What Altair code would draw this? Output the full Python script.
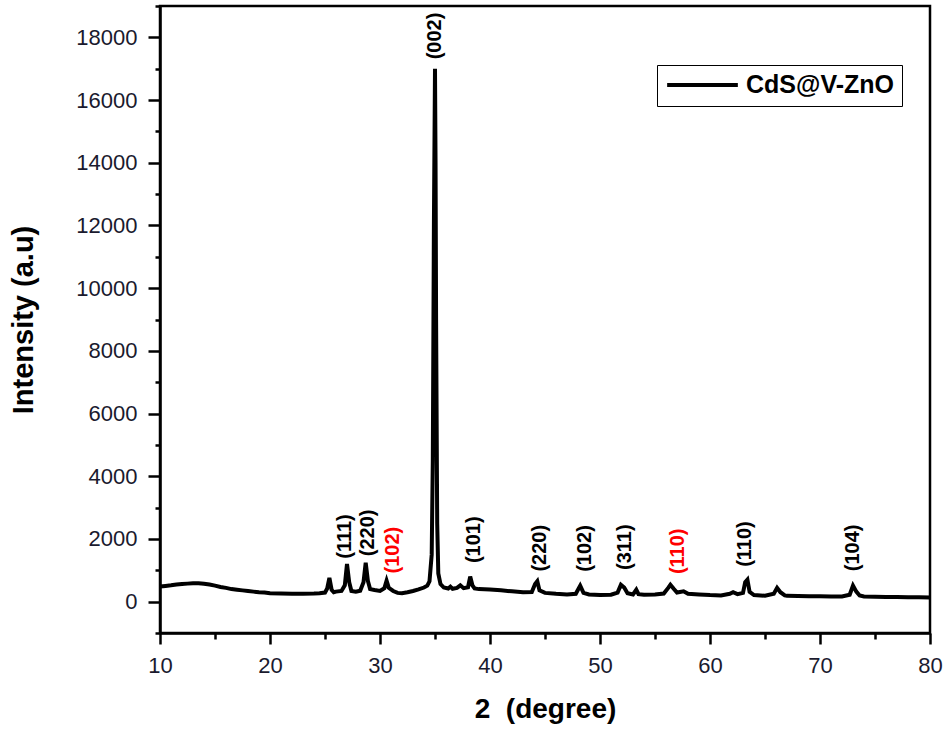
import altair as alt
import pandas as pd

two_theta = [10.0, 10.5, 11.0, 11.5, 12.0, 12.5, 13.0, 13.5, 14.0, 14.5, 15.0, 15.5, 16.0, 16.5,
             17.0, 17.5, 18.0, 18.5, 19.0, 19.5, 20.0, 21.0, 22.0, 23.0, 24.0, 24.5, 25.0, 25.2,
             25.4, 25.6, 25.8, 26.0, 26.5, 26.8, 27.0, 27.2, 27.4, 27.8, 28.2, 28.5, 28.7, 28.9,
             29.1, 29.5, 30.0, 30.4, 30.6, 30.8, 31.2, 31.6, 32.0, 32.5, 33.0, 33.5, 34.0, 34.3,
             34.5, 34.7, 34.8, 34.9, 35.0, 35.05, 35.1, 35.2, 35.3, 35.5, 35.8, 36.2, 36.4, 36.6,
             37.0, 37.3, 37.6, 38.0, 38.2, 38.4, 38.6, 39.0, 40.0, 41.0, 42.0, 43.0, 43.8, 44.1,
             44.3, 44.5, 45.0, 46.0, 47.0, 47.8, 48.2, 48.5, 49.0, 50.0, 51.0, 51.6, 51.9, 52.2,
             52.5, 53.0, 53.3, 53.5, 54.0, 55.0, 55.8, 56.2, 56.4, 56.7, 57.0, 57.6, 58.0, 59.0,
             60.0, 61.0, 61.8, 62.1, 62.5, 63.0, 63.2, 63.4, 63.6, 64.0, 65.0, 65.8, 66.1, 66.4,
             66.8, 67.0, 68.0, 69.0, 70.0, 71.0, 72.0, 72.7, 73.0, 73.3, 73.6, 74.0, 75.0, 76.0,
             77.0, 78.0, 79.0, 80.0]
intensity = [480, 500, 520, 545, 560, 575, 590, 585, 570, 545, 510, 470, 440, 400,
             380, 360, 340, 320, 300, 290, 270, 260, 255, 255, 260, 270, 290, 420,
             760, 380, 300, 320, 340, 520, 1200, 620, 340, 320, 350, 620, 1240, 660,
             400, 370, 340, 430, 670, 440, 340, 280, 270, 300, 340, 390, 450, 510,
             650, 1500, 4500, 12000, 17000, 14000, 9000, 2500, 900, 560, 450, 420, 480, 410,
             440, 520, 430, 460, 800, 520, 420, 400, 390, 360, 330, 300, 310, 560,
             650, 360, 280, 250, 230, 250, 510, 280, 230, 210, 220, 290, 540, 450,
             270, 230, 380, 240, 220, 230, 260, 440, 540, 410, 290, 330, 250, 230,
             210, 200, 250, 300, 240, 280, 620, 700, 310, 210, 190, 250, 440, 300,
             200, 185, 180, 175, 170, 165, 165, 220, 510, 320, 195, 165, 160, 150,
             150, 140, 140, 130]

series_name = "CdS@V-ZnO"

peak_labels = ["(111)", "(220)", "(102)", "(002)", "(101)", "(220)", "(102)", "(311)",
               "(110)", "(110)", "(104)"]
peak_x = [26.8, 28.9, 31.2, 35.0, 38.5, 44.5, 48.6, 52.3, 57.1, 63.2, 73.0]
peak_y = [1370, 1450, 900, 17300, 1230, 960, 950, 1010, 880, 1110, 970]
peak_color = ["black", "black", "red", "black", "black", "black", "black", "black",
              "red", "black", "black"]

x_major = [10, 20, 30, 40, 50, 60, 70, 80]
x_minor = [15, 25, 35, 45, 55, 65, 75]
y_major = [0, 2000, 4000, 6000, 8000, 10000, 12000, 14000, 16000, 18000]
y_minor = [-1000, 1000, 3000, 5000, 7000, 9000, 11000, 13000, 15000, 17000, 19000]

df = pd.DataFrame({"two_theta": two_theta, "intensity": intensity, "series": series_name})
lab = pd.DataFrame({"label": peak_labels, "x": peak_x, "y": peak_y, "c": peak_color})

FONT = "Liberation Sans"

xscale = alt.Scale(domain=[10, 80], nice=False, zero=False)
yscale = alt.Scale(domain=[-1000, 19000], nice=False, zero=False)

xaxis = alt.Axis(
    values=x_major, orient="bottom",
    tickSize=11, tickWidth=2.5, tickColor="black", domainColor="black", domainWidth=2.5,
    labelFont=FONT, labelFontSize=22, labelColor="#1a1a2e", labelPadding=11,
    labelOverlap=False,
    title="2\u00a0\u00a0(degree)", titleFont=FONT, titleFontSize=28, titleFontWeight="bold",
    titleColor="black", titlePadding=19, grid=False, labelFlush=False,
)
yaxis = alt.Axis(
    values=y_major, orient="left", format="d",
    tickSize=12, tickWidth=2.5, tickColor="black", domainColor="black", domainWidth=2.5,
    labelFont=FONT, labelFontSize=22, labelColor="#1a1a2e", labelPadding=11,
    labelOverlap=False,
    title="Intensity (a.u)", titleFont=FONT, titleFontSize=29, titleFontWeight="bold",
    titleColor="black", titlePadding=37, grid=False, labelFlush=False,
)
xaxis_minor = alt.Axis(
    values=x_minor, orient="bottom", tickSize=6, tickWidth=2.5, tickColor="black",
    labels=False, domain=False, title=None, grid=False,
)
yaxis_minor = alt.Axis(
    values=y_minor, orient="left", tickSize=5, tickWidth=2.5, tickColor="black",
    labels=False, domain=False, title=None, grid=False,
)

line = alt.Chart(df).mark_line(strokeWidth=4, interpolate="linear").encode(
    x=alt.X("two_theta:Q", scale=xscale, axis=xaxis),
    y=alt.Y("intensity:Q", scale=yscale, axis=yaxis),
    color=alt.Color(
        "series:N",
        scale=alt.Scale(domain=[series_name], range=["black"]),
        legend=alt.Legend(
            title=None, orient="none", legendX=497, legendY=59,
            symbolType="stroke", symbolSize=5000, symbolStrokeWidth=4,
            clipHeight=24,
            labelFont=FONT, labelFontSize=25, labelFontWeight="bold", labelColor="black",
            strokeColor="black", padding=8, labelOffset=6,
        ),
    ),
)

text = alt.Chart(lab).mark_text(
    angle=270, align="left", baseline="middle", font=FONT, fontSize=20, fontWeight="bold"
).encode(
    x=alt.X("x:Q", scale=xscale, axis=xaxis_minor),
    y=alt.Y("y:Q", scale=yscale, axis=yaxis_minor),
    color=alt.Color("c:N", scale=None, legend=None),
    text="label:N",
)

chart = alt.layer(line, text).resolve_axis(x="independent", y="independent").properties(
    width=770, height=627,
    padding={"left": 160, "top": 6, "right": 18, "bottom": 99},
    autosize=alt.AutoSizeParams(type="none"),
    background="white",
).configure_view(stroke="black", strokeWidth=2.5)

chart.save("out.html", embed_options={"renderer": "svg", "actions": False})
